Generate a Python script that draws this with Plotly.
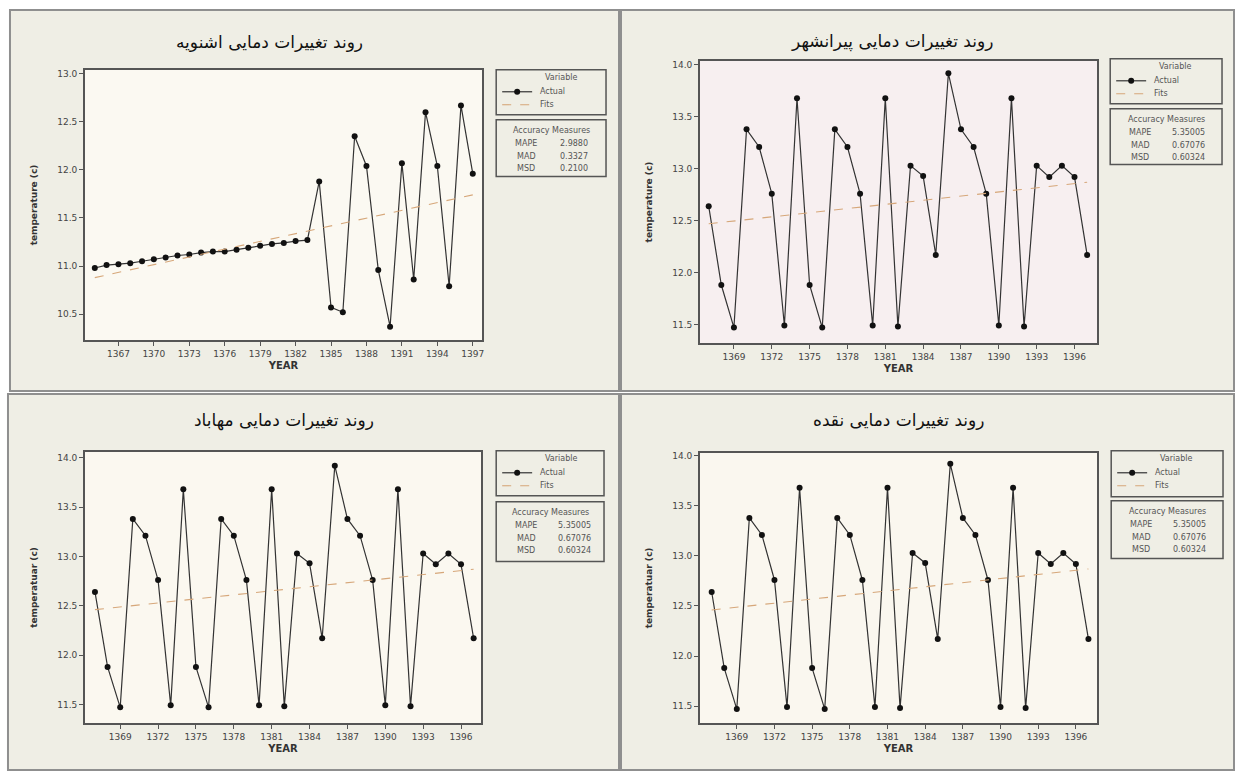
import plotly.graph_objects as go

W, H = 1239, 772

# ---------------- data ----------------
years_osh = list(range(1365, 1398))
actual_osh = [10.98, 11.01, 11.02, 11.03, 11.05, 11.07, 11.09, 11.11, 11.12, 11.14,
              11.15, 11.15, 11.17, 11.19, 11.21, 11.23, 11.24, 11.26, 11.27,
              11.88, 10.57, 10.52, 12.35, 12.04, 10.96, 10.37, 12.07, 10.86,
              12.60, 12.04, 10.79, 12.67, 11.96]
fits_years_osh = [1365, 1397]
fits_osh = [10.88, 11.74]

years_b = list(range(1367, 1398))
actual_piranshahr = [12.64, 11.88, 11.47, 13.38, 13.21, 12.76, 11.49, 13.68, 11.88, 11.47,
                     13.38, 13.21, 12.76, 11.49, 13.68, 11.48, 13.03, 12.93, 12.17, 13.92,
                     13.38, 13.21, 12.76, 11.49, 13.68, 11.48, 13.03, 12.92, 13.03, 12.92, 12.17]
actual_mahabad = list(actual_piranshahr)
actual_naqadeh = list(actual_piranshahr)
fits_years_b = [1367, 1397]
fits_piranshahr = [12.47, 12.87]
fits_mahabad = [12.46, 12.87]
fits_naqadeh = [12.46, 12.87]

titles = ["روند تغییرات دمایی اشنویه", "روند تغییرات دمایی پیرانشهر",
          "روند تغییرات دمایی مهاباد", "روند تغییرات دمایی نقده"]
ytitles = ["temperature (c)", "temperature (c)", "temperatuar (c)", "temperatuar (c)"]
legend_title = "Variable"
series_names = ["Actual", "Fits"]
measure_names = ["MAPE", "MAD", "MSD"]
measures = [["2.9880", "0.3327", "0.2100"],
            ["5.35005", "0.67076", "0.60324"],
            ["5.35005", "0.67076", "0.60324"],
            ["5.35005", "0.67076", "0.60324"]]

# ---------------- layout helpers (pixel geometry) ----------------
def px_x(p):
    return p / W

def px_y(p):
    return 1 - p / H

panels = [  # plot area px: left, right, top, bottom ; axis ranges ; tick0
    dict(pl=85, pr=483, pt=68, pb=339, xr=[1364.16, 1397.8], yr=[10.23, 13.04], t0=1367,
         frame=(10, 8, 620, 390), leg=(497, 607, 68, 113, 118, 175), title=(270, 40),
         bg="#fbf9f2"),
    dict(pl=701, pr=1099, pt=59, pb=342, xr=[1366.3, 1397.8], yr=[11.32, 14.04], t0=1369,
         frame=(622, 8, 1236, 390), leg=(1112, 1224, 57, 102, 107, 163), title=(893, 40),
         bg="#f7eff0"),
    dict(pl=85, pr=482, pt=451, pb=723, xr=[1366.2, 1397.6], yr=[11.31, 14.06], t0=1369,
         frame=(8, 393, 620, 770), leg=(497, 605, 450, 495, 501, 561), title=(284, 420),
         bg="#fbf8f0"),
    dict(pl=701, pr=1099, pt=452, pb=723, xr=[1366.06, 1397.7], yr=[11.33, 14.03], t0=1369,
         frame=(622, 393, 1236, 770), leg=(1113, 1225, 450, 496, 500, 558), title=(900, 419),
         bg="#faf7ef"),
]

series = [(years_osh, actual_osh, fits_years_osh, fits_osh),
          (years_b, actual_piranshahr, fits_years_b, fits_piranshahr),
          (years_b, actual_mahabad, fits_years_b, fits_mahabad),
          (years_b, actual_naqadeh, fits_years_b, fits_naqadeh)]

fig = go.Figure()
shapes = []
annotations = []
FONT = "DejaVu Sans"
AXC = "#555555"
TXT = "#555555"
ACT_LINE = "#333333"
FIT_LINE = "#d6a77a"


def ann(x, y, text, size=8, color=TXT, xanchor="center"):
    annotations.append(dict(xref="paper", yref="paper", x=px_x(x), y=px_y(y), text=text,
                            showarrow=False, xanchor=xanchor, yanchor="middle",
                            font=dict(family=FONT, size=size, color=color)))


for i, (p, (yrs, act, fy, fv)) in enumerate(zip(panels, series)):
    n = "" if i == 0 else str(i + 1)
    xa, ya = "x" + n, "y" + n
    fig.add_trace(go.Scatter(x=yrs, y=act, mode="lines+markers", name=series_names[0],
                             line=dict(color=ACT_LINE, width=1.2),
                             marker=dict(color="#111111", size=6, symbol="circle"),
                             xaxis=xa, yaxis=ya, showlegend=False))
    fig.add_trace(go.Scatter(x=fy, y=fv, mode="lines", name=series_names[1],
                             line=dict(color=FIT_LINE, width=1.1, dash="dash"),
                             xaxis=xa, yaxis=ya, showlegend=False))

    axkw = dict(showline=True, mirror=True, linecolor=AXC, linewidth=1.5, ticks="outside",
                ticklen=4, tickcolor=AXC, showgrid=False, zeroline=False,
                tickfont=dict(family=FONT, size=9, color="#444444"))
    fig.layout["xaxis" + n] = dict(domain=[px_x(p["pl"]), px_x(p["pr"])], range=p["xr"],
                                   anchor=ya, tick0=p["t0"], dtick=3,
                                   title=dict(text="<b>YEAR</b>", standoff=4,
                                              font=dict(family=FONT, size=10, color="#333333")),
                                   **axkw)
    fig.layout["yaxis" + n] = dict(domain=[px_y(p["pb"]), px_y(p["pt"])], range=p["yr"],
                                   anchor=xa, dtick=0.5, tickformat=".1f",
                                   title=dict(text="<b>" + ytitles[i] + "</b>", standoff=18,
                                              font=dict(family=FONT, size=9, color="#333333")),
                                   **axkw)

    # panel frame + background
    fx0, fy0, fx1, fy1 = p["frame"]
    shapes.append(dict(type="rect", xref="paper", yref="paper", x0=px_x(fx0), x1=px_x(fx1),
                       y0=px_y(fy1), y1=px_y(fy0), line=dict(color="#8f8f8f", width=2),
                       fillcolor="#efeee5", layer="below"))
    # plot area background
    shapes.append(dict(type="rect", xref=xa + " domain", yref=ya + " domain", x0=0, x1=1, y0=0, y1=1,
                       line=dict(width=0), fillcolor=p["bg"], layer="below"))
    # legend and accuracy boxes
    lx0, lx1, ly0, ly1, ay0, ay1 = p["leg"]
    for (b0, b1) in [(ly0, ly1), (ay0, ay1)]:
        shapes.append(dict(type="rect", xref="paper", yref="paper", x0=px_x(lx0), x1=px_x(lx1),
                           y0=px_y(b1), y1=px_y(b0), line=dict(color="#555555", width=1.5),
                           fillcolor="rgba(0,0,0,0)", layer="above"))
    # legend content
    ann(lx0 + 65, ly0 + 8, legend_title)
    ra, rf = ly0 + 22, ly0 + 35
    shapes.append(dict(type="line", xref="paper", yref="paper", x0=px_x(lx0 + 6), x1=px_x(lx0 + 36),
                       y0=px_y(ra), y1=px_y(ra), line=dict(color=ACT_LINE, width=1.2)))
    shapes.append(dict(type="circle", xref="paper", yref="paper", x0=px_x(lx0 + 18), x1=px_x(lx0 + 24),
                       y0=px_y(ra + 3), y1=px_y(ra - 3), line=dict(color="#111111", width=0),
                       fillcolor="#111111"))
    shapes.append(dict(type="line", xref="paper", yref="paper", x0=px_x(lx0 + 6), x1=px_x(lx0 + 36),
                       y0=px_y(rf), y1=px_y(rf), line=dict(color=FIT_LINE, width=1.1, dash="dash")))
    ann(lx0 + 42, ra, series_names[0], xanchor="left")
    ann(lx0 + 42, rf, series_names[1], xanchor="left")
    # accuracy measures text
    ann((lx0 + lx1) / 2, ay0 + 11, "Accuracy Measures")
    for k in range(3):
        yy = ay0 + 24 + 12.5 * k
        ann(lx0 + 30, yy, measure_names[k])
        ann(lx0 + 78, yy, measures[i][k])
    # panel title
    tx, ty = p["title"]
    ann(tx, ty, titles[i], size=17, color="#111111")

fig.update_layout(width=W, height=H, autosize=False, margin=dict(l=0, r=0, t=0, b=0),
                  paper_bgcolor="#ffffff", plot_bgcolor="rgba(0,0,0,0)",
                  shapes=shapes, annotations=annotations, showlegend=False)

fig.write_html("out.html", config={"displayModeBar": False},
               post_script="document.body.style.margin='0';document.body.style.padding='0';"
                           "document.body.style.overflow='hidden';")
